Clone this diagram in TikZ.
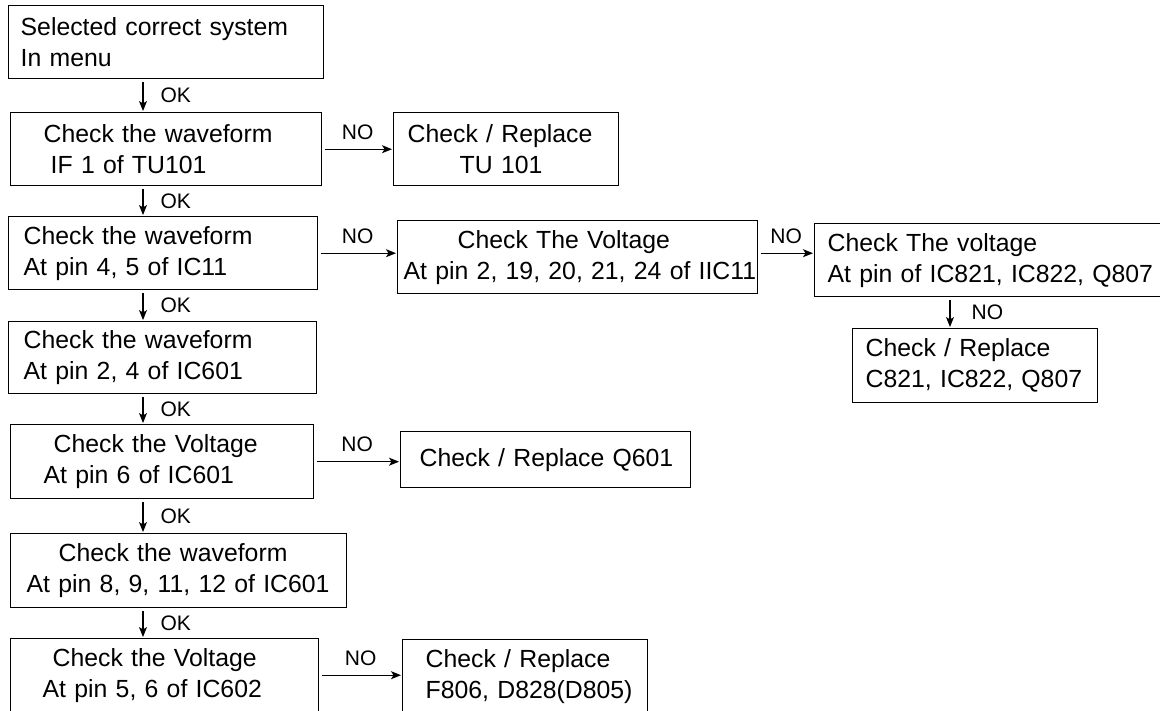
\documentclass[tikz,border=0pt]{standalone}
\usepackage{fontspec}
\setmainfont{Liberation Sans}
\usetikzlibrary{positioning}
\usetikzlibrary{arrows.meta}
\tikzset{
    mybox/.style = {rectangle, draw=black, line width=1.4pt, anchor=north west, inner xsep=0pt, inner ysep=0pt, align=left, minimum height=73pt, font=\fontsize{24.8}{31}\selectfont},
    oklabel/.style = {right=17pt, inner sep=0pt, font=\fontsize{21}{25}\selectfont},
    nolabel/.style = {above=9pt, inner sep=0pt, font=\fontsize{21}{25}\selectfont},
    edgen/.style = {-{Stealth[length=10pt,width=8pt,inset=2.5pt]}, line width=1.2pt, shorten <=3pt, shorten >=1pt}
}
\newcommand{\boxline}[2]{\hspace*{#1pt}\mbox{#2}}
\begin{document}
\begin{tikzpicture}[x=1pt,y=-1pt]
\useasboundingbox (0,0) rectangle (1160,710);
\clip (0,0) rectangle (1160,710);
%
\node[mybox, text width=315pt] at (8,5) (b1) {\boxline{12}{Selected correct system}\\\boxline{12}{In menu}};
\node[mybox, text width=311pt] at (10,112) (b2) {\boxline{33}{Check the waveform}\\\boxline{40}{IF 1 of TU101}};
\node[mybox, text width=225pt] at (393,112) (b3) {\boxline{14}{Check / Replace}\\\boxline{66}{TU 101}};
\node[mybox, text width=309pt] at (8,216) (b4) {\boxline{15}{Check the waveform}\\\boxline{15}{At pin 4, 5 of IC11}};
\node[mybox, text width=360pt] at (397,220) (b5) {\boxline{60}{Check The Voltage}\\\boxline{6}{At pin 2, 19, 20, 21, 24 of IIC11}};
\node[mybox, text width=360pt] at (814,223) (b6) {\boxline{13}{Check The voltage}\\\boxline{13}{At pin of IC821, IC822, Q807}};
\node[mybox, text width=245pt, minimum height=74pt] at (852,328) (b7) {\boxline{13}{Check / Replace}\\\boxline{13}{C821, IC822, Q807}};
\node[mybox, text width=308pt, minimum height=72pt] at (8,321) (b8) {\boxline{15}{Check the waveform}\\\boxline{15}{At pin 2, 4 of IC601}};
\node[mybox, text width=303pt, minimum height=74pt] at (10,424) (b9) {\boxline{43}{Check the Voltage}\\\boxline{33}{At pin 6 of IC601}};
\node[mybox, text width=290pt, minimum height=56pt] at (400,431) (b10) {\boxline{19}{Check / Replace Q601}};
\node[mybox, text width=336pt, minimum height=74pt] at (10,533) (b11) {\boxline{48}{Check the waveform}\\\boxline{16}{At pin 8, 9, 11, 12 of IC601}};
\node[mybox, text width=308pt] at (10,638) (b12) {\boxline{42}{Check the Voltage}\\\boxline{32}{At pin 5, 6 of IC602}};
\node[mybox, text width=245pt] at (402,639) (b13) {\boxline{23}{Check / Replace}\\\boxline{23}{F806, D828(D805)}};
%
\coordinate (okcol) at (143,0);
\coordinate (nocol) at (950,0);
%
\draw[edgen] (b1.south -| okcol) -- node[oklabel] {OK} (b2.north -| okcol);
\draw[edgen] (b2.south -| okcol) -- node[oklabel] {OK} (b4.north -| okcol);
\draw[edgen] (b4.south -| okcol) -- node[oklabel] {OK} (b8.north -| okcol);
\draw[edgen] (b8.south -| okcol) -- node[oklabel] {OK} (b9.north -| okcol);
\draw[edgen] (b9.south -| okcol) -- node[oklabel] {OK} (b11.north -| okcol);
\draw[edgen] (b11.south -| okcol) -- node[oklabel] {OK} (b12.north -| okcol);
\draw[edgen] (b6.south -| nocol) -- node[oklabel,xshift=4pt] {NO} (b7.north -| nocol);
%
\draw[edgen] (b2.east) -- node[nolabel] {NO} (b2.east -| b3.west);
\draw[edgen] (b4.east) -- node[nolabel] {NO} (b4.east -| b5.west);
\draw[edgen] (b5.east |- b4.east) -- node[nolabel] {NO} (b6.west |- b4.east);
\draw[edgen] (b9.east) -- node[nolabel] {NO} (b9.east -| b10.west);
\draw[edgen] (b12.east) -- node[nolabel] {NO} (b12.east -| b13.west);

\end{tikzpicture}
\end{document}
